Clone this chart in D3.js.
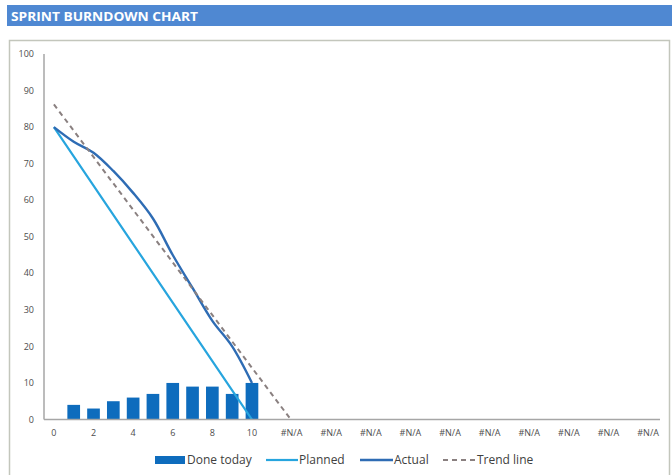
<!DOCTYPE html>
<html>
<head>
<meta charset="utf-8">
<script src="https://cdn.jsdelivr.net/npm/d3@7"></script>
<style>
  html, body { margin: 0; padding: 0; background: #fff; }
  svg { display: block; font-family: "Open Sans", "Noto Sans", sans-serif; }
</style>
</head>
<body>
<svg id="chart" width="672" height="475"></svg>
<script>
// Sprint days: 0..10 are real days, the rest are unfilled cells showing #N/A
const days = ["0","1","2","3","4","5","6","7","8","9","10",
  "#N/A","#N/A","#N/A","#N/A","#N/A","#N/A","#N/A","#N/A","#N/A","#N/A",
  "#N/A","#N/A","#N/A","#N/A","#N/A","#N/A","#N/A","#N/A","#N/A","#N/A"];
// Story points completed each day (day 0 has none)
const doneToday = [null, 4, 3, 5, 6, 7, 10, 9, 9, 7, 10];
// Ideal burndown: straight from 80 to 0 over the sprint
const planned = [80, 72, 64, 56, 48, 40, 32, 24, 16, 8, 0];
// Remaining work at the end of each day
const actual = [80, 76, 73, 68, 62, 55, 45, 36, 27, 20, 10];
const yTicks = [0, 10, 20, 30, 40, 50, 60, 70, 80, 90, 100];

const svg = d3.select("#chart");
const W = 672, H = 475;

// Title banner
svg.append("rect").attr("x", 7).attr("y", 5).attr("width", W - 7).attr("height", 21)
  .attr("fill", "#4f88d2");
svg.append("text").attr("x", 11).attr("y", 20.5)
  .attr("fill", "#fff").attr("font-weight", 700).attr("font-size", 12.5)
  .attr("textLength", 187).attr("lengthAdjust", "spacingAndGlyphs")
  .text("SPRINT BURNDOWN CHART");

// Chart frame
svg.append("rect").attr("x", 9.5).attr("y", 40.5).attr("width", 660).attr("height", 440)
  .attr("fill", "#fff").attr("stroke", "#c3c6bc").attr("stroke-width", 1.5);

// Plot area
const plotL = 44, plotR = 658, plotT = 54, plotB = 419.5;
const x = d3.scaleBand().domain(d3.range(days.length)).range([plotL, plotR]).padding(0);
const y = d3.scaleLinear().domain([0, 100]).range([plotB, plotT]);
const cx = i => x(i) + x.bandwidth() / 2;

// Bars: done today
const barW = x.bandwidth() * 0.64;
svg.append("g").selectAll("rect")
  .data(doneToday.map((v, i) => ({ v, i })).filter(d => d.v != null))
  .join("rect")
  .attr("x", d => cx(d.i) - barW / 2)
  .attr("y", d => y(d.v))
  .attr("width", barW)
  .attr("height", d => y(0) - y(d.v))
  .attr("fill", "#0e6cbd");

// Planned line
svg.append("path")
  .datum(planned)
  .attr("fill", "none").attr("stroke", "#27a5de").attr("stroke-width", 2.2)
  .attr("d", d3.line().x((d, i) => cx(i)).y(d => y(d)));

// Actual line (smoothed)
svg.append("path")
  .datum(actual)
  .attr("fill", "none").attr("stroke", "#2e6cb4").attr("stroke-width", 2.4)
  .attr("d", d3.line().x((d, i) => cx(i)).y(d => y(d)).curve(d3.curveCatmullRom.alpha(0.5)));

// Linear trend of the actual series, clipped where it reaches zero
const n = actual.length;
const mx = d3.mean(d3.range(n)), my = d3.mean(actual);
const slope = d3.sum(actual, (v, i) => (i - mx) * (v - my)) / d3.sum(d3.range(n), i => (i - mx) * (i - mx));
const icpt = my - slope * mx;
const xZero = -icpt / slope;
const step = x.bandwidth();
const trendPts = [[0, icpt], [xZero, 0]];
svg.append("path")
  .datum(trendPts)
  .attr("fill", "none").attr("stroke", "#8a8080").attr("stroke-width", 2)
  .attr("stroke-dasharray", "5,4")
  .attr("d", d3.line().x(d => cx(0) + d[0] * step).y(d => y(d[1])));

// Axes
const axisColor = "#a6a6a6";
svg.append("line").attr("x1", plotL).attr("x2", plotL).attr("y1", plotT).attr("y2", plotB)
  .attr("stroke", axisColor).attr("stroke-width", 1.5);
svg.append("line").attr("x1", plotL).attr("x2", plotR + 2).attr("y1", plotB).attr("y2", plotB)
  .attr("stroke", axisColor).attr("stroke-width", 1.5);

// Y tick labels
svg.append("g").selectAll("text").data(yTicks).join("text")
  .attr("x", 34).attr("y", d => y(d)).attr("dy", "0.35em")
  .attr("text-anchor", "end").attr("font-size", 9).attr("fill", "#4d4d4d")
  .text(d => d);

// X tick labels, every other day
svg.append("g").selectAll("text")
  .data(d3.range(days.length).filter(i => i % 2 === 0))
  .join("text")
  .attr("x", i => cx(i)).attr("y", 436)
  .attr("text-anchor", "middle").attr("font-size", 9)
  .attr("fill", "#4d4d4d")
  .text(i => days[i]);

// Legend
const lg = svg.append("g").attr("font-size", 12).attr("fill", "#404040");
const ly = 460;
lg.append("rect").attr("x", 155).attr("y", ly - 4).attr("width", 30).attr("height", 8).attr("fill", "#0e6cbd");
lg.append("text").attr("x", 187).attr("y", ly).attr("dy", "0.35em").text("Done today");
lg.append("line").attr("x1", 266).attr("x2", 298).attr("y1", ly).attr("y2", ly)
  .attr("stroke", "#27a5de").attr("stroke-width", 2.2);
lg.append("text").attr("x", 299).attr("y", ly).attr("dy", "0.35em").text("Planned");
lg.append("line").attr("x1", 360).attr("x2", 393).attr("y1", ly).attr("y2", ly)
  .attr("stroke", "#2e6cb4").attr("stroke-width", 2.4);
lg.append("text").attr("x", 394).attr("y", ly).attr("dy", "0.35em").text("Actual");
lg.append("line").attr("x1", 443).attr("x2", 476).attr("y1", ly).attr("y2", ly)
  .attr("stroke", "#8a8080").attr("stroke-width", 2).attr("stroke-dasharray", "5,4");
lg.append("text").attr("x", 477).attr("y", ly).attr("dy", "0.35em").text("Trend line");
</script>
</body>
</html>
